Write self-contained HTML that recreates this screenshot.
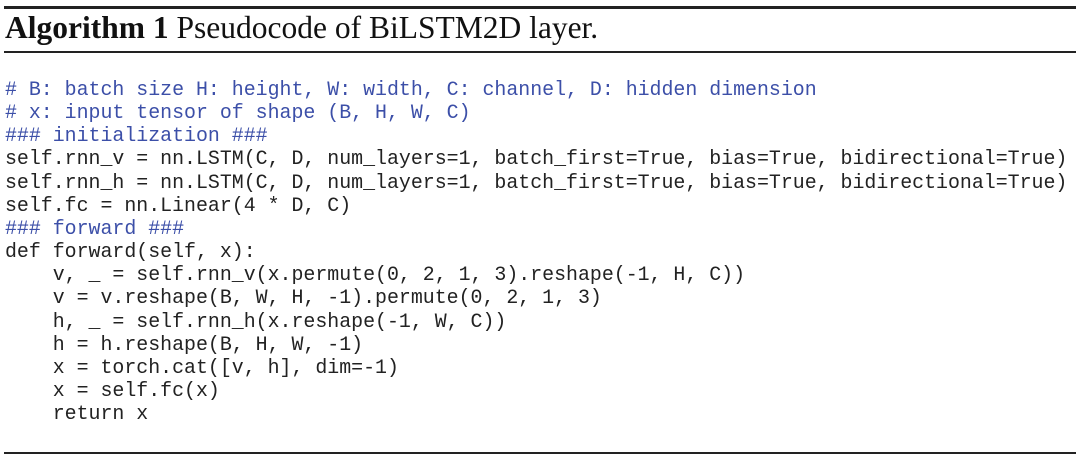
<!DOCTYPE html>
<html><head><meta charset="utf-8"><style>
body{margin:0;width:1080px;height:464px;background:#fff;position:relative;overflow:hidden}
.r{position:absolute;left:4px;right:4px;background:#222}
.t{position:absolute;left:5px;top:10px;font:31.5px "Liberation Serif",serif;color:#111;white-space:pre}
pre{position:absolute;left:5px;top:78px;margin:0;font:19.9px/23.15px "Liberation Mono",monospace;color:#222}
.c{color:#3c4fa8}
</style></head><body>
<div class="r" style="top:6px;height:3px"></div>
<div class="t"><b>Algorithm 1</b> Pseudocode of BiLSTM2D layer.</div>
<div class="r" style="top:51px;height:2px"></div>
<pre><span class="c"># B: batch size H: height, W: width, C: channel, D: hidden dimension
# x: input tensor of shape (B, H, W, C)
### initialization ###</span>
self.rnn_v = nn.LSTM(C, D, num_layers=1, batch_first=True, bias=True, bidirectional=True)
self.rnn_h = nn.LSTM(C, D, num_layers=1, batch_first=True, bias=True, bidirectional=True)
self.fc = nn.Linear(4 * D, C)
<span class="c">### forward ###</span>
def forward(self, x):
    v, _ = self.rnn_v(x.permute(0, 2, 1, 3).reshape(-1, H, C))
    v = v.reshape(B, W, H, -1).permute(0, 2, 1, 3)
    h, _ = self.rnn_h(x.reshape(-1, W, C))
    h = h.reshape(B, H, W, -1)
    x = torch.cat([v, h], dim=-1)
    x = self.fc(x)
    return x</pre>
<div class="r" style="top:452px;height:2px"></div>
</body></html>
